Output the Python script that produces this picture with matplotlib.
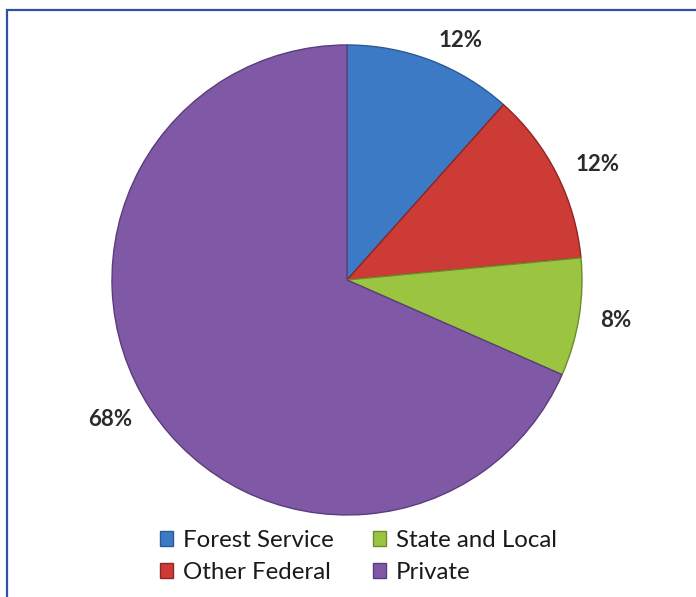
import matplotlib.pyplot as plt
from matplotlib.patches import Rectangle

# land ownership shares (percent)
categories = ['Forest Service', 'Other Federal', 'State and Local', 'Private']
shares = [11.6, 11.9, 8.1, 68.4]
colors = ['#3d7ac6', '#cc3b36', '#9bc540', '#7f58a6']
edges = ['#2a5a96', '#8e2624', '#6d8c2a', '#5b3d7d']

plt.rcParams['font.family'] = ['Lato', 'DejaVu Sans']

fig = plt.figure(figsize=(6.96, 5.97), dpi=100)
fig.patch.set_facecolor('white')
ax = fig.add_axes([0.1609, 0.1374, 0.6753, 0.7873])

labels = ['%.0f%%' % s for s in shares]
wedges, texts = ax.pie(shares, colors=colors, startangle=90, counterclock=False,
                       labels=labels, labeldistance=1.09,
                       wedgeprops={'linewidth': 1.0},
                       textprops={'fontsize': 16, 'fontweight': 'bold',
                                  'color': '#2b2b2b'})
for w, ec in zip(wedges, edges):
    w.set_edgecolor(ec)
ax.set_xlim(-1, 1)
ax.set_ylim(-1, 1)
ax.set_aspect('equal')

leg = fig.legend(wedges, categories, ncol=2, loc='center',
                 bbox_to_anchor=(0.515, 0.068), frameon=False,
                 fontsize=17.3, handlelength=0.55, handleheight=0.55,
                 handletextpad=0.42, columnspacing=1.6, labelspacing=0.45)
for t in leg.get_texts():
    t.set_color('#1a1a1a')

# frame line along the top and left edge
fig.add_artist(Rectangle((7 / 696, -0.1), 1.2, 1.1 - 10 / 597,
                         transform=fig.transFigure, fill=False,
                         edgecolor='#3050a8', linewidth=1.6))

fig.savefig('out.png', dpi=100)
